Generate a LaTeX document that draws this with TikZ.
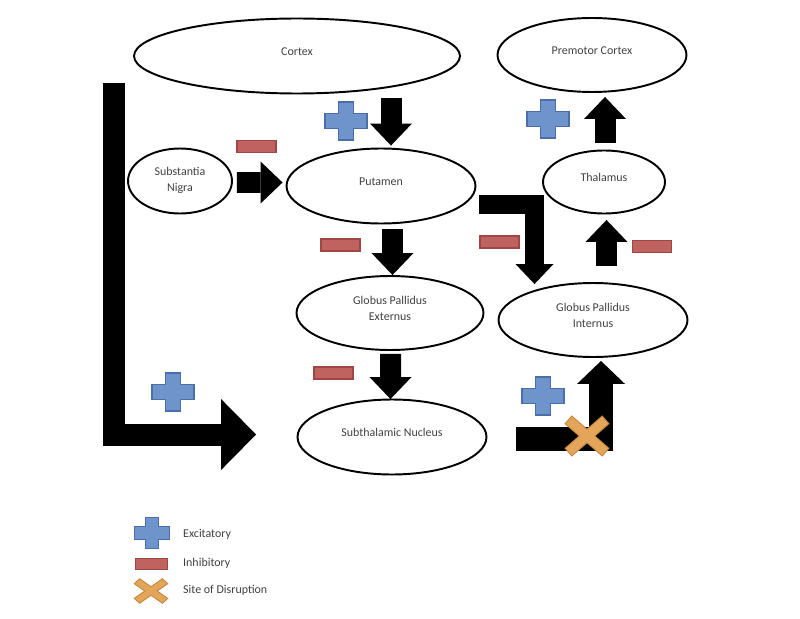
\documentclass[tikz,border=0pt]{standalone}
\usepackage{fontspec}
\setmainfont{Carlito}
\usetikzlibrary{arrows.meta,positioning,shapes.geometric,calc}
\definecolor{txtgray}{HTML}{404040}
\definecolor{plusblue}{HTML}{6F93CB}
\definecolor{plusedge}{HTML}{4A6EA8}
\definecolor{minusred}{HTML}{C0625F}
\definecolor{minusedge}{HTML}{9E4744}
\definecolor{crossorange}{HTML}{E3A55A}
\definecolor{crossedge}{HTML}{C4873A}
\tikzset{
  area/.style={ellipse, draw=black, line width=1.1pt, inner sep=0pt, align=center, text=txtgray,
               text depth=5.5pt, font=\fontsize{6.8}{9}\selectfont},
  blk/.style={line width=0.42cm, line join=miter, -{Triangle[length=0.44cm, width=0.84cm, line width=0pt]}},
  legtext/.style={anchor=west, text=txtgray, font=\fontsize{6.8}{9}\selectfont},
  plussign/.pic={\draw[plusedge, fill=plusblue, line width=0.6pt] (-7.5,-19) -- (7.5,-19) -- (7.5,-7.5) -- (21,-7.5)
     -- (21,7.5) -- (7.5,7.5) -- (7.5,19) -- (-7.5,19) -- (-7.5,7.5) -- (-21,7.5) -- (-21,-7.5) -- (-7.5,-7.5) -- cycle;},
  minussign/.pic={\draw[minusedge, fill=minusred, line width=0.6pt] (-19.5,-6) rectangle (19.5,6);},
  crosssign/.pic={
     \foreach \a in {41,-41} \draw[crossedge, line width=1.2pt, rotate=\a] (-24,-4.5) rectangle (24,4.5);
     \foreach \a in {41,-41} \fill[crossorange, rotate=\a] (-24,-4.5) rectangle (24,4.5);},
}
\begin{document}
\begin{tikzpicture}[x=0.02cm, y=-0.02cm]
    \useasboundingbox (0,0) rectangle (800,618);
    \node[area, minimum width=6.52cm, minimum height=1.5cm] (cortex) at (297,56) {Cortex};
    \node[area, minimum width=3.78cm, minimum height=1.48cm] (premotor) at (592,55) {Premotor Cortex};
    \node[area, minimum width=2.08cm, minimum height=1.3cm, text depth=2pt] (sn) at (180,181) {Substantia\\Nigra};
    \node[area, minimum width=3.78cm, minimum height=1.5cm] (put) at (381,186) {Putamen};
    \node[area, minimum width=2.44cm, minimum height=1.26cm] (thal) at (604,182) {Thalamus};
    \node[area, minimum width=3.74cm, minimum height=1.48cm] (gpe) at (390,313) {Globus Pallidus\\Externus};
    \node[area, minimum width=3.78cm, minimum height=1.48cm] (gpi) at (593,320) {Globus Pallidus\\Internus};
    \node[area, minimum width=3.78cm, minimum height=1.5cm] (stn) at (392,437) {Subthalamic Nucleus};

    \draw[blk] ($(cortex.south)+(94,3.5)$) -- ($(put.north)+(10,-2)$);
    \draw[blk] ($(sn.east)+(4,1.5)$) -- ($(put.west)+(-3,-3.5)$);
    \draw[blk] ($(put.south)+(11.5,4.5)$) -- ($(gpe.north)+(2.5,0)$);
    \draw[blk] ($(gpe.south)+(0.5,3)$) -- ($(stn.north)+(-1.5,0.5)$);
    \draw[blk, line width=0.38cm, -{Triangle[length=0.4cm, width=0.76cm, line width=0pt]}]
      ($(put.east)+(2.5,18.5)$) -| ($(gpi.north)+(-58.5,2)$);
    \draw[blk] ($(gpi.north)+(13.5,-16)$) -- ($(thal.south)+(2.5,5.5)$);
    \draw[blk] ($(thal.north)+(1,-6.5)$) -- ($(premotor.south)+(13,4)$);
    \draw[blk, line width=0.44cm, -{Triangle[length=0.7cm, width=1.42cm, line width=0pt]}]
      ($(cortex.west)+(-19,27)$) |- ($(stn.west)+(-40.5,-2.5)$);
    \draw[blk, line width=0.48cm, -{Triangle[length=0.46cm, width=0.96cm, line width=0pt]}]
      ($(stn.east)+(28.5,1.5)$) -| ($(gpi.south)+(8,3)$);

    \foreach \p in {(346,121),(548,119),(173,392),(543,396)} \pic at \p {plussign};
    \foreach \p in {(256.5,146.5),(340.5,245),(499.5,242),(652,246.5),(333.5,373)} \pic at \p {minussign};
    \pic at (587,436) {crosssign};

    \pic[scale=0.83] at (152,533) {plussign};
    \pic[xscale=0.8, yscale=0.85] at (151.5,564) {minussign};
    \pic[xscale=0.75, yscale=0.6] at (151,591) {crosssign};
    \node[legtext] (lexc) at (177,534) {Excitatory};
    \node[legtext] (linh) at (177,563) {Inhibitory};
    \node[legtext] (ldis) at (177,590) {Site of Disruption};
\end{tikzpicture}
\end{document}
